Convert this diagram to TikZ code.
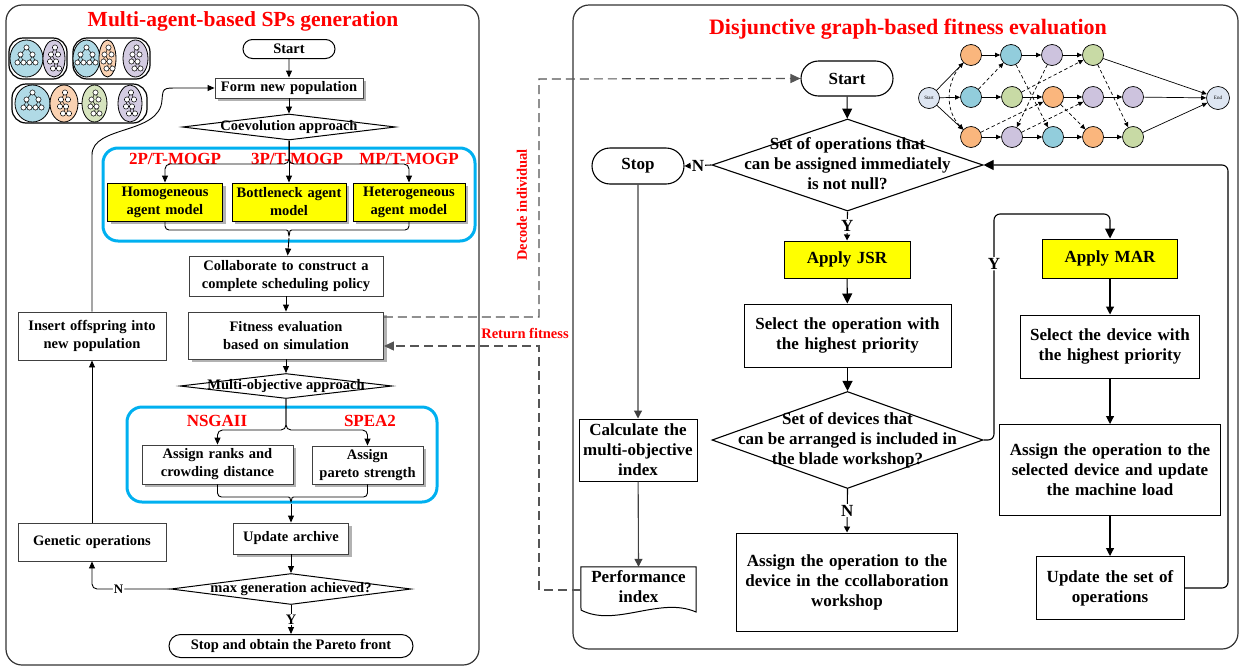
\documentclass[tikz,border=0pt]{standalone}
\usepackage{fontspec}
\setmainfont{Liberation Serif}
\usetikzlibrary{arrows.meta,shapes.geometric,shapes.misc,shadows}

\definecolor{groupblue}{RGB}{0,176,240}
\definecolor{agentyellow}{RGB}{255,255,0}
\definecolor{linkgray}{RGB}{85,85,85}
\definecolor{opblue}{RGB}{146,205,220}
\definecolor{oporange}{RGB}{250,182,125}
\definecolor{oppurple}{RGB}{205,195,222}
\definecolor{opgreen}{RGB}{200,218,165}
\definecolor{opend}{RGB}{222,230,242}
\definecolor{iconblue}{RGB}{176,218,230}
\definecolor{iconorange}{RGB}{250,210,178}
\definecolor{iconpurple}{RGB}{212,204,226}
\definecolor{icongreen}{RGB}{214,228,190}

\newcommand{\leftfont}{\bfseries\fontsize{14.5}{18}\selectfont}
\newcommand{\rightfont}{\bfseries\fontsize{17}{20}\selectfont}
\newcommand{\dlines}[1]{\makebox[0pt]{\begin{tabular}{@{}c@{}}#1\end{tabular}}}

\tikzset{
  panel/.style={draw=black!80, line width=1.2pt, rounded corners=16pt},
  groupframe/.style={draw=groupblue, line width=3pt, rounded corners=15pt},
  titletext/.style={text=red, font=\bfseries\fontsize{21.5}{24}\selectfont},
  redlabel/.style={text=red, font=\bfseries\fontsize{17}{20}\selectfont},
  linklabel/.style={text=red, font=\bfseries\fontsize{14.5}{17}\selectfont},
  procbox/.style={draw=black!75, line width=0.9pt, fill=white, align=center, inner sep=0pt, font=\leftfont},
  shaded/.style={drop shadow={shadow xshift=3pt, shadow yshift=-3pt, fill=black!30, opacity=1}},
  agentbox/.style={procbox, draw=black, fill=agentyellow, shaded},
  termbox/.style={rounded rectangle, draw=black, line width=1pt, fill=white, inner sep=0pt},
  choice/.style={diamond, draw=black, line width=1pt, fill=white, inner sep=0pt},
  bigbox/.style={draw=black, line width=1pt, fill=white, align=center, inner sep=0pt, font=\rightfont},
  arr/.style={draw=black, line width=0.9pt, -{Triangle[length=7pt,width=6pt]}},
  bigarr/.style={draw=black, line width=1.1pt, -{Triangle[length=10pt,width=10pt]}},
  midarr/.style={draw=black, line width=1.1pt, -{Triangle[length=8pt,width=8pt]}},
  smallarr/.style={draw=black, line width=1.1pt, -{Triangle[length=6pt,width=6pt]}},
  dasharr/.style={draw=linkgray, line width=1.2pt, dash pattern=on 9pt off 5pt, -{Triangle[length=10pt,width=9pt]}},
  yesno/.style={fill=white, inner sep=1pt, font=\bfseries\fontsize{13}{15}\selectfont},
  yesnobig/.style={fill=white, inner sep=1pt, font=\bfseries\fontsize{17}{20}\selectfont},
  opnode/.style={circle, draw=black, line width=0.7pt, minimum size=21pt, inner sep=0pt, font=\fontsize{5}{6}\selectfont},
  popgroup/.style={ellipse, draw=black, line width=0.8pt, minimum height=37pt, inner sep=0pt},
  iconframe/.style={draw=black, line width=1.2pt, rounded corners=14pt},
  oparr/.style={draw=black, line width=0.7pt, -{Triangle[length=5pt,width=4.5pt]}},
  disjarr/.style={oparr, dash pattern=on 3.5pt off 2.5pt},
  bigtree/.pic={
    \draw[line width=0.5pt] (0,-11) -- (-6,-4) -- (-9,4) (-6,-4) -- (-3,4)
      (0,-11) -- (6,-4) -- (3,4) (6,-4) -- (9,4);
    \draw[line width=0.5pt, fill=white] (0,-11) circle (2.6) (-6,-4) circle (2.6)
      (6,-4) circle (2.6) (-9,4) circle (2.6) (-3,4) circle (2.6) (3,4) circle (2.6)
      (9,4) circle (2.6);
  },
  smalltree/.pic={
    \draw[line width=0.5pt] (1,-11) -- (-3,-4) -- (-4,3) (1,-11) -- (4,-4)
      (-3,-4) -- (2,3) -- (-1,10) (2,3) -- (5,10);
    \draw[line width=0.5pt, fill=white] (1,-11) circle (2.6) (-3,-4) circle (2.6)
      (4,-4) circle (2.6) (-4,3) circle (2.6) (2,3) circle (2.6) (-1,10) circle (2.6)
      (5,10) circle (2.6);
  },
}

\begin{document}
\begin{tikzpicture}[x=1pt,y=-1pt]
  \useasboundingbox (0,0) rectangle (1241,667);

  % Panels and titles
  \draw[panel] (6,5) rectangle (479,665);
  \draw[panel] (573,5) rectangle (1238,649);
  \node[titletext] (lefttitle) at (243,21) {Multi-agent-based SPs generation};
  \node[titletext, font=\bfseries\fontsize{22}{24}\selectfont] (righttitle) at (908,29) {Disjunctive graph-based fitness evaluation};

  % Population icons
  \draw[iconframe] (9,38) rectangle (67,79);
  \draw[iconframe] (73,38) rectangle (150,79);
  \draw[iconframe] (12,84) rectangle (147,123);
  \node[popgroup, fill=iconblue, minimum width=33pt] (ica) at (26.5,58.5) {};
  \node[popgroup, fill=iconpurple, minimum width=22pt] (icb) at (54,58.5) {};
  \node[popgroup, fill=iconblue, minimum width=27pt] (icc) at (86.5,58.5) {};
  \node[popgroup, fill=iconorange, minimum width=17pt] (icd) at (107.5,58.5) {};
  \node[popgroup, fill=iconpurple, minimum width=25pt] (ice) at (135.5,58.5) {};
  \node[popgroup, fill=iconblue, minimum width=35pt] (icf) at (32.5,103.5) {};
  \node[popgroup, fill=iconorange, minimum width=28pt] (icg) at (64,103.5) {};
  \node[popgroup, fill=icongreen, minimum width=25pt] (ich) at (94.5,103.5) {};
  \node[popgroup, fill=iconpurple, minimum width=24pt] (ici) at (130,103.5) {};
  \draw[line width=0.8pt] (icg) -- (ich);
  \pic at (ica) {bigtree};
  \pic at (icb) {smalltree};
  \pic at (icc) {bigtree};
  \pic at (icd) {smalltree};
  \pic at (ice) {smalltree};
  \pic at (icf) {bigtree};
  \pic at (icg) {smalltree};
  \pic at (ich) {smalltree};
  \pic at (ici) {smalltree};

  % Blue frames
  \draw[groupframe] (103,148) rectangle (475,241);
  \draw[groupframe] (127,407) rectangle (437,502);

  % Left nodes
  \node[termbox, minimum width=92pt, minimum height=19pt, font=\leftfont] (start1) at (289,49) {Start};
  \node[procbox, shaded, text width=148pt, minimum height=20pt] (formpop) at (289,88) {Form new population};
  \node[choice, minimum width=213pt, minimum height=26pt, font=\leftfont] (coevo) at (289,127) {\dlines{Coevolution approach}};
  \node[redlabel] (lab2p) at (175,159) {2P/T-MOGP};
  \node[redlabel] (lab3p) at (297,159) {3P/T-MOGP};
  \node[redlabel] (labmp) at (409,159) {MP/T-MOGP};
  \node[agentbox, text width=115pt, minimum height=38pt] (homo) at (165,202) {Homogeneous\\agent model};
  \node[agentbox, text width=114pt, minimum height=38pt] (bottle) at (289,202) {Bottleneck agent\\model};
  \node[agentbox, text width=112pt, minimum height=38pt] (hetero) at (409,202) {Heterogeneous\\agent model};
  \node[procbox, text width=194pt, minimum height=40pt] (collab) at (286,276) {Collaborate to construct a\\complete scheduling policy};
  \node[procbox, shaded, text width=195pt, minimum height=47pt] (fiteval) at (286,335.5) {Fitness evaluation\\based on simulation};
  \node[choice, minimum width=212pt, minimum height=25pt, font=\leftfont] (multiobj) at (286,386) {\dlines{Multi-objective approach}};
  \node[redlabel] (labnsga) at (217,421) {NSGAII};
  \node[redlabel] (labspea) at (370,421) {SPEA2};
  \node[procbox, shaded, text width=151pt, minimum height=39pt] (ranks) at (217.5,464.5) {Assign ranks and\\crowding distance};
  \node[procbox, shaded, text width=111pt, minimum height=38pt] (pareto) at (367.5,465) {Assign\\pareto strength};
  \node[procbox, shaded, text width=115pt, minimum height=31pt] (archive) at (291,538.5) {Update archive};
  \node[choice, minimum width=240pt, minimum height=31pt, font=\leftfont] (maxgen) at (291,589) {\dlines{max generation achieved?}};
  \node[termbox, minimum width=244pt, minimum height=23pt, font=\leftfont] (stopfront) at (291,646) {Stop and obtain the Pareto front};
  \node[procbox, text width=148pt, minimum height=38pt] (genop) at (92,542) {Genetic operations};
  \node[procbox, text width=148pt, minimum height=48pt] (insert) at (92,336) {Insert offspring into\\new population};

  % Left edges
  \draw[arr] (start1) -- (formpop);
  \draw[arr] (formpop) -- (coevo);
  \coordinate (split1) at (289,164);
  \draw[arr] (coevo.south) -- (bottle.north);
  \draw[arr, rounded corners=5pt] (coevo.south) -- (split1) -| (homo.north);
  \draw[arr, rounded corners=5pt] (coevo.south) -- (split1) -| (hetero.north);
  \coordinate (brace1) at (289,238);
  \draw[line width=0.9pt, rounded corners=4pt] (homo.south) |- (282,230) .. controls (288,230) .. (brace1)
    .. controls (290,230) .. (296,230) -| (hetero.south);
  \draw[arr] (brace1) -- (collab);
  \draw[arr] (collab) -- (fiteval);
  \draw[arr] (fiteval) -- (multiobj);
  \coordinate (split2) at (286,430);
  \draw[arr, rounded corners=5pt] (multiobj.south) -- (split2) -| (ranks.north);
  \draw[arr, rounded corners=5pt] (multiobj.south) -- (split2) -| (pareto.north);
  \coordinate (brace2) at (291,504);
  \draw[line width=0.9pt, rounded corners=4pt] (ranks.south) |- (284,497) .. controls (290,497) .. (brace2)
    .. controls (292,497) .. (298,497) -| (pareto.south);
  \draw[arr] (brace2) -- (archive);
  \draw[arr] (archive) -- (maxgen);
  \draw[arr] (maxgen) -- node[yesno, font=\leftfont]{Y} (stopfront);
  \draw[arr, rounded corners=5pt] (maxgen.west) -| node[yesno, pos=0.33]{N} (genop.south);
  \draw[arr] (genop) -- (insert);
  \draw[arr] (insert.north) -- (92,155) .. controls (92,125) and (160,135) .. (162,100)
    .. controls (163,88) .. (178,88) -- (formpop.west);

  % Right nodes
  \node[termbox, line width=1.1pt, minimum width=92pt, minimum height=35pt, font=\rightfont] (start2) at (847,78.5) {Start};
  \node[choice, line width=1.1pt, minimum width=271pt, minimum height=92pt, font=\rightfont] (opset) at (847.5,165)
    {\dlines{Set of operations that\\can be assigned immediately\\is not null?}};
  \node[termbox, line width=1.1pt, minimum width=92pt, minimum height=36pt, font=\rightfont] (stop2) at (638,166) {Stop};
  \node[bigbox, fill=agentyellow, text width=126pt, minimum height=37pt] (jsr) at (847,259.5) {Apply JSR};
  \node[bigbox, text width=207pt, minimum height=63pt] (selop) at (847.5,335.5) {Select the operation with\\the highest priority};
  \node[choice, line width=1.1pt, minimum width=271pt, minimum height=97pt, font=\rightfont] (devset) at (847.5,440)
    {\dlines{Set of devices that\\can be arranged is included in\\the blade workshop?}};
  \node[bigbox, text width=221pt, minimum height=98pt] (assigncol) at (847,582) {Assign the operation to the\\device in the ccollaboration\\workshop};
  \node[bigbox, fill=agentyellow, text width=135pt, minimum height=39pt] (mar) at (1110,258.5) {Apply MAR};
  \node[bigbox, text width=179pt, minimum height=63pt] (seldev) at (1110,346.5) {Select the device with\\the highest priority};
  \node[bigbox, text width=221pt, minimum height=91pt] (assigndev) at (1110,470) {Assign the operation to the\\selected device and update\\the machine load};
  \node[bigbox, text width=148pt, minimum height=63pt] (updset) at (1110,588) {Update the set of\\operations};
  \node[bigbox, text width=118pt, minimum height=62pt] (calcidx) at (638,450) {Calculate the\\multi-objective\\index};
  \node[align=center, inner sep=0pt, minimum width=115pt, minimum height=40pt, font=\rightfont] (perfidx) at (638.5,587) {Performance\\index};
  \draw[line width=1pt] (perfidx.north west) -- (perfidx.north east) -- (696,612)
    .. controls (660,596) and (615,628) .. (581,610) -- cycle;

  % Right edges
  \draw[bigarr] (start2) -- (opset);
  \draw[smallarr] (opset.west) -- node[yesnobig]{N} (stop2.east);
  \draw[smallarr] (opset.south) -- node[yesnobig]{Y} (jsr.north);
  \draw[bigarr] (jsr) -- (selop);
  \draw[bigarr] (selop) -- (devset);
  \draw[smallarr] (devset.south) -- node[yesnobig]{N} (assigncol.north);
  \draw[bigarr, rounded corners=6pt] (devset.east) -- (994,440) -- node[yesnobig, pos=0.78]{Y} (994,214) -| (mar.north);
  \draw[midarr] (mar) -- (seldev);
  \draw[midarr] (seldev) -- (assigndev);
  \draw[midarr] (assigndev) -- (updset);
  \draw[bigarr, rounded corners=6pt] (updset.east) -| (1228,165) -- (opset.east);
  \draw[midarr, draw=black!75] (stop2) -- (calcidx);
  \draw[midarr, draw=black!75] (calcidx) -- (perfidx.north);

  % Links between panels
  \coordinate (decodecorner) at (539,79);
  \coordinate (returncorner) at (539,346);
  \draw[dasharr] ([yshift=18.5pt]fiteval.east) -| (decodecorner) -- (start2.west);
  \draw[dasharr] ([yshift=-3pt]perfidx.west) -| (returncorner) -- ([yshift=-10.5pt]fiteval.east);
  \node[linklabel, rotate=90] (decodelab) at (522,205) {Decode individual};
  \node[linklabel] (returnlab) at (525,333) {Return fitness};

  % Disjunctive graph
  \begin{scope}[every node/.style={opnode}]
    \node[fill=opend] (gs) at (929,98) {Start};
    \node[fill=opend, minimum size=23pt] (ge) at (1218,98) {End};
    \node[fill=oporange] (g11) at (971,55) {};
    \node[fill=opblue] (g12) at (1011,55) {};
    \node[fill=oppurple] (g13) at (1052,55) {};
    \node[fill=opgreen] (g14) at (1093,55) {};
    \node[fill=opblue] (g21) at (971,97) {};
    \node[fill=opgreen] (g22) at (1012,97) {};
    \node[fill=oporange] (g23) at (1053,97) {};
    \node[fill=oppurple] (g24) at (1093,97) {};
    \node[fill=oppurple] (g25) at (1133,97) {};
    \node[fill=oporange] (g31) at (971,137) {};
    \node[fill=oppurple] (g32) at (1012,137) {};
    \node[fill=opblue] (g33) at (1053,137) {};
    \node[fill=oporange] (g34) at (1093,137) {};
    \node[fill=opgreen] (g35) at (1133,137) {};
  \end{scope}

  \begin{scope}[every edge/.style={oparr}]
    \path (gs) edge (g11);
    \path (gs) edge (g21);
    \path (gs) edge (g31);
    \path (g11) edge (g12);
    \path (g12) edge (g13);
    \path (g13) edge (g14);
    \path (g21) edge (g22);
    \path (g22) edge (g23);
    \path (g23) edge (g24);
    \path (g24) edge (g25);
    \path (g31) edge (g32);
    \path (g32) edge (g33);
    \path (g33) edge (g34);
    \path (g34) edge (g35);
    \path (g14) edge (ge);
    \path (g25) edge (ge);
    \path (g35) edge (ge);
  \end{scope}

  \begin{scope}[every edge/.style={disjarr}]
    \path (g11) edge[bend right=45] (g31);
    \path (g21) edge (g12);
    \path (g12) edge (g33);
    \path (g31) edge (g23);
    \path (g23) edge (g34);
    \path (g22) edge (g14);
    \path (g14) edge (g35);
    \path (g13) edge (g32);
    \path (g32) edge (g24);
  \end{scope}

\end{tikzpicture}
\end{document}
